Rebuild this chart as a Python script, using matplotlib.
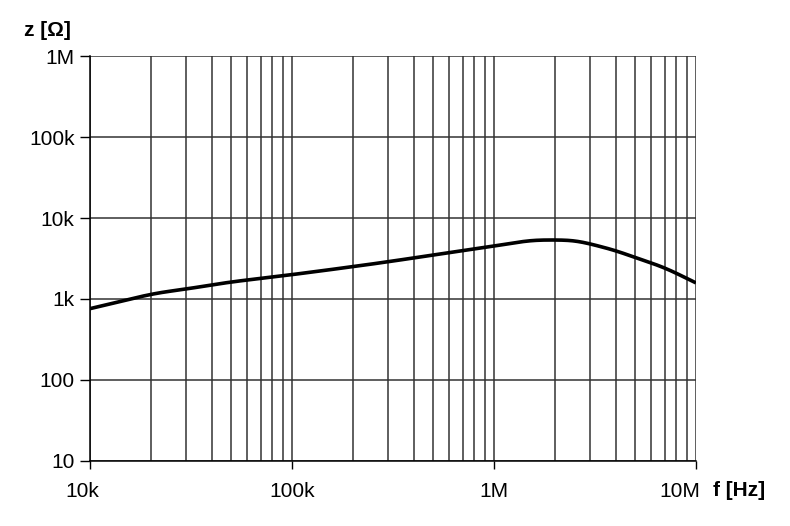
import matplotlib
matplotlib.use("Agg")
import matplotlib.pyplot as plt
import matplotlib.transforms as mtrans
import numpy as np
from matplotlib.ticker import FixedLocator, LogLocator, NullFormatter

plt.rcParams['font.family'] = ['Liberation Sans', 'DejaVu Sans']

# impedance curve
freq = [10e3, 20e3, 30e3, 50e3, 100e3, 200e3, 300e3, 500e3, 1e6,
        1.5e6, 2e6, 2.5e6, 3e6, 4e6, 5e6, 7e6, 10e6]
imp = [760, 1140, 1330, 1620, 2000, 2510, 2890, 3490, 4510,
       5250, 5350, 5250, 4780, 3950, 3250, 2420, 1580]

yticks = [10, 100, 1e3, 1e4, 1e5, 1e6]
ylabels = ["10", "100", "1k", "10k", "100k", "1M"]
xticks = [1e4, 1e5, 1e6, 1e7]
xlabels = ["10k", "100k", "1M", "10M"]


def catmull(px, py, n=40):
    # smooth curve through the read points (log space)
    px = np.concatenate([[2 * px[0] - px[1]], px, [2 * px[-1] - px[-2]]])
    py = np.concatenate([[2 * py[0] - py[1]], py, [2 * py[-1] - py[-2]]])
    ox, oy = [], []
    t = np.linspace(0, 1, n, endpoint=False)
    for i in range(1, len(px) - 2):
        for arr, out in ((px, ox), (py, oy)):
            p0, p1, p2, p3 = arr[i - 1], arr[i], arr[i + 1], arr[i + 2]
            out.extend(0.5 * ((2 * p1) + (-p0 + p2) * t + (2 * p0 - 5 * p1 + 4 * p2 - p3) * t ** 2
                              + (-p0 + 3 * p1 - 3 * p2 + p3) * t ** 3))
    ox.append(px[-2])
    oy.append(py[-2])
    return np.array(ox), np.array(oy)


def smooth(lx, ly, w=0.12):
    # even grid in log f, then a short moving average to iron out reading noise
    g = np.linspace(lx[0], lx[-1], 601)
    v = np.interp(g, lx, ly)
    h = int(round(w / (g[1] - g[0]) / 2))
    left = v[0] - (v[1:h + 1] - v[0])[::-1]
    right = v[-1] + (v[-1] - v[-h - 1:-1])[::-1]
    vp = np.concatenate([left, v, right])
    k = np.ones(2 * h + 1) / (2 * h + 1)
    return g, np.convolve(vp, k, mode='valid')


fig = plt.figure(figsize=(7.9, 5.26), dpi=100)
ax = fig.add_axes([0.1139, 0.1236, 0.7671, 0.7699])

cx, cy = catmull(np.log10(freq), np.log10(imp))
xs, ys = smooth(cx, cy)
ax.plot(10 ** xs, 10 ** ys, color='black', lw=2.6, solid_capstyle='butt', zorder=3)

ax.set_xscale('log')
ax.set_yscale('log')
ax.set_xlim(1e4, 1e7)
ax.set_ylim(10, 1e6)

ax.xaxis.set_major_locator(FixedLocator(xticks))
ax.set_xticklabels(xlabels)
ax.xaxis.set_minor_locator(LogLocator(base=10, subs=np.arange(2, 10)))
ax.xaxis.set_minor_formatter(NullFormatter())
ax.yaxis.set_major_locator(FixedLocator(yticks))
ax.set_yticklabels(ylabels)
ax.yaxis.set_minor_locator(FixedLocator([]))

ax.grid(True, which='both', axis='x', color='#333333', lw=1.1)
ax.grid(True, which='major', axis='y', color='#333333', lw=1.1)

for s in ['top', 'right']:
    ax.spines[s].set_visible(False)
ax.spines['left'].set_linewidth(1.1)
ax.spines['bottom'].set_linewidth(1.1)

ax.tick_params(axis='both', which='major', labelsize=15, length=6, width=1, pad=9)
ax.tick_params(axis='x', which='minor', length=0)
ax.tick_params(axis='y', pad=4, length=7)

# end labels sit a little inward, as in the original
xl = ax.get_xticklabels()
xl[0].set_transform(xl[0].get_transform() + mtrans.ScaledTranslation(-0.08, 0, fig.dpi_scale_trans))
xl[-1].set_horizontalalignment('right')
xl[-1].set_transform(xl[-1].get_transform() + mtrans.ScaledTranslation(0.04, 0, fig.dpi_scale_trans))

fig.text(24 / 790, 1 - 31 / 526, "z [\u03a9]", fontsize=15, fontweight='bold', va='center', ha='left')
fig.text(713 / 790, 1 - 491 / 526, "f [Hz]", fontsize=15, fontweight='bold', va='center', ha='left')

fig.savefig("out.png", dpi=100)
